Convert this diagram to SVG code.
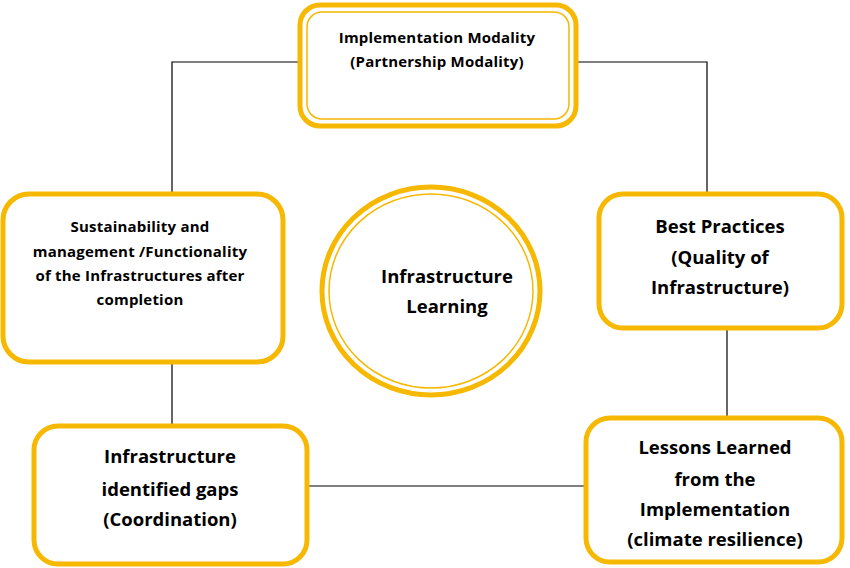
<svg xmlns="http://www.w3.org/2000/svg" width="850" height="568" viewBox="0 0 850 568">
<style>
.box{fill:#fff;stroke:#F6B800;stroke-width:5}
.inner{fill:none;stroke:#F6B800;stroke-width:1.5}
.conn{fill:none;stroke:#000;stroke-width:1.2}
text{font-family:"Open Sans",Lato,"Liberation Sans",sans-serif;font-weight:bold;fill:#000;text-anchor:middle}
.s{font-size:15px;letter-spacing:0.2px}
.m{font-size:18.5px}
</style>
<rect width="850" height="568" fill="#fff"/>
<g id="connectors">
<polyline class="conn" points="300,62 172,62 172,193"/>
<polyline class="conn" points="576,62 707,62 707,193"/>
<line class="conn" x1="727" y1="328" x2="727" y2="417"/>
<line class="conn" x1="585" y1="486" x2="308" y2="486"/>
<line class="conn" x1="172" y1="362" x2="172" y2="425"/>
</g>
<g id="implementation">
<rect class="box" x="300" y="5" width="276" height="121" rx="20"/>
<rect class="inner" x="307" y="12" width="262" height="107" rx="15"/>
<text class="s" x="437" y="43">Implementation Modality</text>
<text class="s" x="437" y="67">(Partnership Modality)</text>
</g>
<g id="sustainability">
<rect class="box" x="3" y="194" width="280" height="168" rx="26"/>
<text class="s" x="140" y="232">Sustainability and</text>
<text class="s" x="140" y="257">management /Functionality</text>
<text class="s" x="140" y="281">of the Infrastructures after</text>
<text class="s" x="140" y="305">completion</text>
</g>
<g id="learning">
<ellipse class="box" cx="431" cy="291" rx="109" ry="104"/>
<ellipse class="inner" cx="431" cy="291" rx="102" ry="97"/>
<text class="m" x="447" y="283">Infrastructure</text>
<text class="m" x="447" y="313">Learning</text>
</g>
<g id="best-practices">
<rect class="box" x="599" y="194" width="243" height="134" rx="24"/>
<text class="m" x="720" y="233">Best Practices</text>
<text class="m" x="720" y="264">(Quality of</text>
<text class="m" x="720" y="294">Infrastructure)</text>
</g>
<g id="lessons">
<rect class="box" x="586" y="418" width="256" height="144" rx="24"/>
<text class="m" x="715" y="454">Lessons Learned</text>
<text class="m" x="715" y="486">from the</text>
<text class="m" x="715" y="516">Implementation</text>
<text class="m" x="715" y="546">(climate resilience)</text>
</g>
<g id="gaps">
<rect class="box" x="34" y="426" width="273" height="138" rx="24"/>
<text class="m" x="170" y="463">Infrastructure</text>
<text class="m" x="170" y="496">identified gaps</text>
<text class="m" x="170" y="526">(Coordination)</text>
</g>
</svg>
